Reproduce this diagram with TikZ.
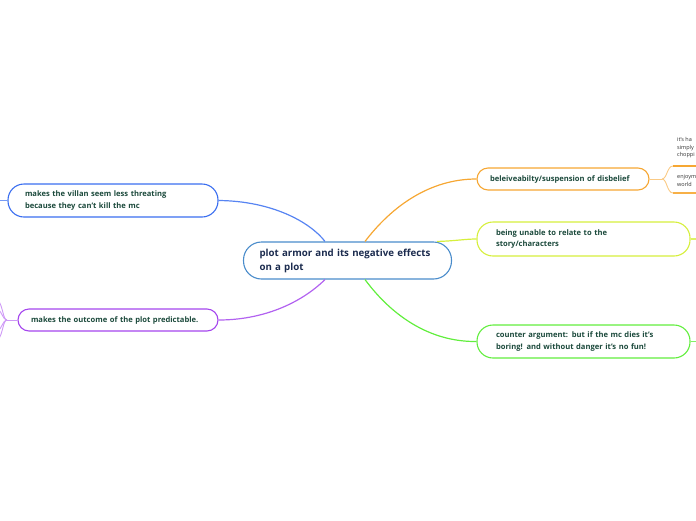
\documentclass[tikz,border=0pt]{standalone}
\usepackage{fontspec}
\setmainfont{Open Sans}
\definecolor{cblue}{HTML}{3A6EF0}
\definecolor{ccentral}{HTML}{4A8CCB}
\definecolor{corange}{HTML}{F6A733}
\definecolor{cyellow}{HTML}{D6EF3C}
\definecolor{cgreen}{HTML}{62EE3E}
\definecolor{cpurple}{HTML}{A546EE}
\definecolor{ctext}{HTML}{1C4A3C}
\definecolor{ctitle}{HTML}{1B2B4E}
\definecolor{csmall}{HTML}{333333}
\tikzset{
  topicbox/.style={draw, line width=1.1pt, fill=white, align=left, inner ysep=0pt,
    font=\fontsize{7.6}{11.5}\selectfont\bfseries, text=ctext},
  centralbox/.style={draw=ccentral, line width=1.1pt, fill=white, align=left, inner ysep=0pt,
    font=\fontsize{9.7}{14}\selectfont\bfseries, text=ctitle,
    rounded corners=18pt, minimum height=37pt, text width=176pt, inner xsep=16pt},
  link/.style={line width=1.2pt},
  smalltext/.style={font=\fontsize{5.5}{7.8}\selectfont, text=csmall, anchor=north west, inner sep=0pt, align=left}
}
\begin{document}
\begin{tikzpicture}[x=1pt,y=-1pt]
\useasboundingbox (0,0) rectangle (696,520);

% central
\node[centralbox] (c) at (347.5,260.5) {plot armor and its negative effects\\on a plot};

% topics
\node[topicbox, draw=cblue, rounded corners=16pt, minimum height=33pt, text width=176pt, inner xsep=17pt]
  (villan) at (113,200.5) {makes the villan seem less threating\\because they can't kill the mc};
\node[topicbox, draw=cpurple, rounded corners=11pt, minimum height=22pt, text width=174pt, inner xsep=13pt]
  (predict) at (118,320) {makes the outcome of the plot predictable.};
\node[topicbox, draw=corange, rounded corners=11pt, minimum height=22pt, text width=146pt, inner xsep=13pt]
  (belief) at (563,179) {beleiveabilty/suspension of disbelief};
\node[topicbox, draw=cyellow, rounded corners=16pt, minimum height=34pt, text width=175pt, inner xsep=19pt]
  (relate) at (583.5,239) {being unable to relate to the\\story/characters};
\node[topicbox, draw=cgreen, rounded corners=16pt, minimum height=33pt, text width=175pt, inner xsep=19pt]
  (counter) at (583.5,341.5) {counter argument: but if the mc dies it's\\boring! and without danger it's no fun!};

% main connectors
\draw[link, cblue!85] (villan.east) .. controls (272,201) and (310,222) .. ([xshift=-22.5pt]c.north);
\draw[link, corange] ([xshift=17.5pt]c.north) .. controls (392,206) and (430,179) .. (belief.west);
\draw[link, cyellow] ([xshift=89.5pt]c.north) .. controls (455,241) and (465,239) .. (relate.west);
\draw[link, cpurple!85] ([xshift=-22.5pt]c.south) .. controls (300,304) and (262,320) .. (predict.east);
\draw[link, cgreen] ([xshift=17.5pt]c.south) .. controls (392,316) and (430,342) .. (counter.west);

% stubs towards off-page subtopics
\coordinate (vl) at (0,200.5);
\draw[link, cblue!70] (villan.west) -- (vl);
\coordinate (rr) at (696,239);
\draw[link, cyellow!80] (relate.east) -- (rr);
\coordinate (gr) at (696,341.5);
\draw[link, cgreen!80] (counter.east) -- (gr);

% purple fan on the left
\coordinate (pf) at (7,320);
\coordinate (p1) at (-2,300);
\coordinate (p2) at (-2,309);
\coordinate (p3) at (-2,331);
\coordinate (p4) at (-2,340);
\draw[line width=0.9pt, cpurple!55] (predict.west) -- (pf);
\draw[line width=0.9pt, cpurple!55] (pf) .. controls (3,320) and (3,306) .. (p1);
\draw[line width=0.9pt, cpurple!55] (pf) .. controls (3,320) and (2,312) .. (p2);
\draw[line width=0.9pt, cpurple!55] (pf) .. controls (3,320) and (2,328) .. (p3);
\draw[line width=0.9pt, cpurple!55] (pf) .. controls (3,320) and (3,334) .. (p4);

% orange subtopics (cut at the page edge)
\coordinate (bs) at (662,179);
\coordinate (u1) at (673,166);
\coordinate (u1e) at (697,166);
\coordinate (u2) at (673,193);
\coordinate (u2e) at (697,193);
\draw[line width=0.9pt, corange!60] (belief.east) -- (bs);
\draw[line width=0.9pt, corange!60] (bs) .. controls (667,179) and (667,166) .. (u1);
\draw[line width=0.9pt, corange!60] (bs) .. controls (667,179) and (667,193) .. (u2);
\draw[line width=1.8pt, corange] (u1) -- (u1e);
\draw[line width=1.5pt, corange!90] (u2) -- (u2e);
\node[smalltext] (s1) at (677,137) {it's ha\\simply\\choppi};
\node[smalltext] (s2) at (677,174) {enjoym\\world};
\end{tikzpicture}
\end{document}
